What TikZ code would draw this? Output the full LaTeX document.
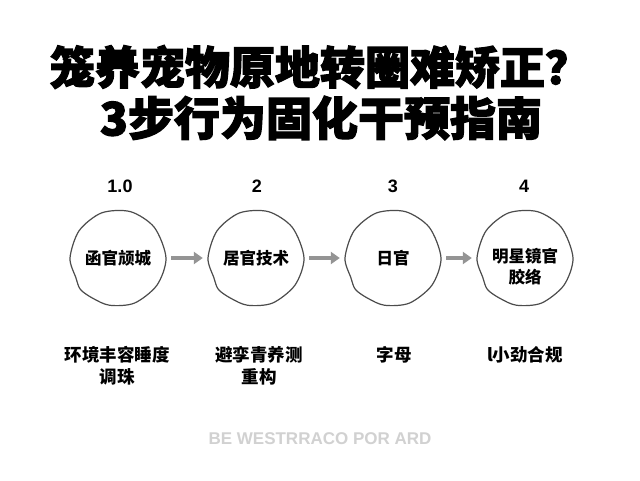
\documentclass[tikz,border=0pt]{standalone}
\usepackage{fontspec}
\setmainfont{Liberation Sans}
\newfontfamily\cjk{Noto Sans CJK SC}
\newfontfamily\cjkheavy{Noto Sans CJK SC}[BoldFeatures={FakeBold=2.5}]
\usetikzlibrary{arrows.meta,positioning}
\tikzset{>=Stealth}
\tikzset{
  stepcirc/.style={circle,minimum size=96pt,inner sep=0pt,align=center,
    font=\cjk\bfseries\fontsize{16.5}{21}\selectfont},
  sketch/.style={draw=black!70,line width=1.2pt},
  flow/.style={-{Triangle[length=9pt,width=12pt]},line width=3.5pt,
    draw=black!42,shorten <=5pt,shorten >=5pt},
  num/.style={font=\bfseries\fontsize{18}{20}\selectfont},
  note/.style={align=center,font=\cjk\bfseries\fontsize{17.5}{22}\selectfont}
}
% hand drawn ring round a step
\newcommand*{\ring}[1]{\draw[sketch,shift={#1}] plot[smooth cycle]
  coordinates {(0:48) (35:47.5) (70:48) (100:48) (122:47.5) (140:49)
  (155:46.5) (180:48) (215:47.5) (250:48) (285:48) (320:47.5)};}

\begin{document}
\begin{tikzpicture}[x=1pt,y=-1pt]
\fill[white] (0,0) rectangle (640,480);
\useasboundingbox (0,0) rectangle (640,480);
\node[font=\cjkheavy\bfseries\fontsize{45}{48}\selectfont] (t1) at (320,67)
  {笼养宠物原地转圈难矫正？};
\node[font=\cjkheavy\bfseries\fontsize{46}{50}\selectfont] (t2) at (321,118)
  {3步行为固化干预指南};
\node[stepcirc] (s1) at (118,258) {函官颃城};
\node[stepcirc] (s2) at (256,258) {居官技术};
\node[stepcirc] (s3) at (393,258) {日官};
\node[stepcirc,yshift=-9pt] (s4) at (525,258) {明星镜官\\胶络};
\ring{(118,258)} \ring{(256,258)} \ring{(393,258)} \ring{(525,258)}
\draw[flow] (s1) -- (s2);
\draw[flow] (s2) -- (s3);
\draw[flow] (s3.east) -- (s3.east -| s4.west);
\node[num] (n1) at (120,186) {1.0};
\node[num] (n2) at (257,186) {2};
\node[num] (n3) at (393,186) {3};
\node[num] (n4) at (524,186) {4};
\node[note,anchor=north] (d1) at (117,343) {环境丰容睡度\\调珠};
\node[note,anchor=north] (d2) at (259,343) {避孪青养测\\重构};
\node[note,anchor=north] (d3) at (394,343) {字母};
\node[note,anchor=north] (d4) at (525,343) {l小劲合规};
\node[font=\bfseries\fontsize{17}{20}\selectfont,text=black!18] (ft) at (320,439)
  {BE WESTRRACO POR ARD};
\end{tikzpicture}
\end{document}
